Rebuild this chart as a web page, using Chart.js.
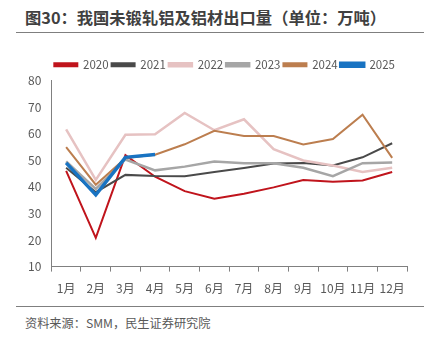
<!DOCTYPE html>
<html>
<head>
<meta charset="utf-8">
<script src="https://cdn.jsdelivr.net/npm/chart.js@4.4.1/dist/chart.umd.min.js"></script>
<style>
  html, body { margin: 0; padding: 0; background: #fff; }
  body { width: 438px; height: 347px; position: relative; overflow: hidden;
         font-family: "Noto Sans CJK SC", "Noto Sans", sans-serif; }
  #title { position: absolute; left: 25px; top: 5px; font-size: 16.3px; font-weight: bold; color: #404040; }
  .rule { position: absolute; left: 16px; width: 408px; height: 0; border-top: 1.5px solid #7f7f7f; }
  #source { position: absolute; left: 25px; top: 314px; font-size: 12.2px; color: #595959; }
  #wrap { position: absolute; left: 0; top: 56px; width: 438px; height: 250px; }
</style>
</head>
<body>
<div id="title">图30：我国未锻轧铝及铝材出口量（单位：万吨）</div>
<div class="rule" style="top:32px"></div>
<div id="wrap"><canvas id="chart"></canvas></div>
<div class="rule" style="top:306px"></div>
<div id="source">资料来源：SMM，民生证券研究院</div>
<script>
// 月份与各年出口量（万吨）
const months = ['1月','2月','3月','4月','5月','6月','7月','8月','9月','10月','11月','12月'];
const years = ['2020','2021','2022','2023','2024','2025'];
const v2020 = [46.0, 20.8, 51.9, 43.8, 38.4, 35.5, 37.4, 39.8, 42.6, 41.9, 42.4, 45.6];
const v2021 = [47.2, 38.0, 44.5, 44.1, 44.0, 45.6, 47.1, 48.8, 49.0, 48.0, 51.1, 56.4];
const v2022 = [61.6, 42.6, 59.6, 59.8, 67.8, 61.3, 65.4, 54.2, 49.9, 48.0, 45.6, 47.2];
const v2023 = [49.6, 39.2, 50.3, 46.2, 47.6, 49.5, 48.9, 48.9, 47.2, 44.0, 48.9, 49.2];
const v2024 = [54.9, 40.8, 50.8, 52.1, 56.0, 61.1, 59.1, 59.1, 55.9, 58.0, 67.1, 50.9];
const v2025 = [49.0, 37.0, 51.1, 52.2];
const yTicks = [10, 20, 30, 40, 50, 60, 70, 80];

const colors = ['#C0141C', '#4A4A4A', '#E6C2C2', '#A6A6A6', '#BC7E4F', '#1873C2'];
const widths = [2, 2, 2.5, 2.5, 2, 3.5];
const series = [v2020, v2021, v2022, v2023, v2024, v2025];

const datasets = series.map((d, i) => ({
  label: years[i],
  data: d,
  borderColor: colors[i],
  backgroundColor: colors[i],
  borderWidth: widths[i],
  pointRadius: 0,
  tension: 0,
  order: series.length - i   // 后面的年份画在上层
}));

const font = { family: '"Noto Sans CJK SC", "Noto Sans", sans-serif', size: 12 };
const legendFont = { family: '"Noto Sans CJK SC", "Noto Sans", sans-serif', size: 11.5 };

new Chart(document.getElementById('chart'), {
  type: 'line',
  data: { labels: months, datasets },
  options: {
    responsive: true,
    maintainAspectRatio: false,
    animation: false,
    layout: { padding: { left: 18, right: 31, top: 0, bottom: 0 } },
    plugins: {
      tooltip: { enabled: false },
      legend: {
        position: 'top',
        fullSize: false,
        align: 'start',
        labels: {
          boxWidth: 23, boxHeight: 3, padding: 3,
          color: '#595959', font: legendFont,
          sort: (a, b) => a.datasetIndex - b.datasetIndex
        }
      }
    },
    scales: {
      x: {
        offset: true,
        grid: { offset: true, drawOnChartArea: false, drawTicks: true, tickLength: 5, color: '#808080' },
        border: { color: '#808080', width: 1 },
        ticks: { color: '#595959', font, maxRotation: 0, autoSkip: false, padding: 10 }
      },
      y: {
        min: 10, max: 80,
        afterBuildTicks: (axis) => { axis.ticks = yTicks.map(v => ({ value: v })); },
        grid: { drawOnChartArea: false, drawTicks: false },
        border: { color: '#808080', width: 1 },
        ticks: { color: '#595959', font, padding: 10 }
      }
    }
  }
});
</script>
</body>
</html>
